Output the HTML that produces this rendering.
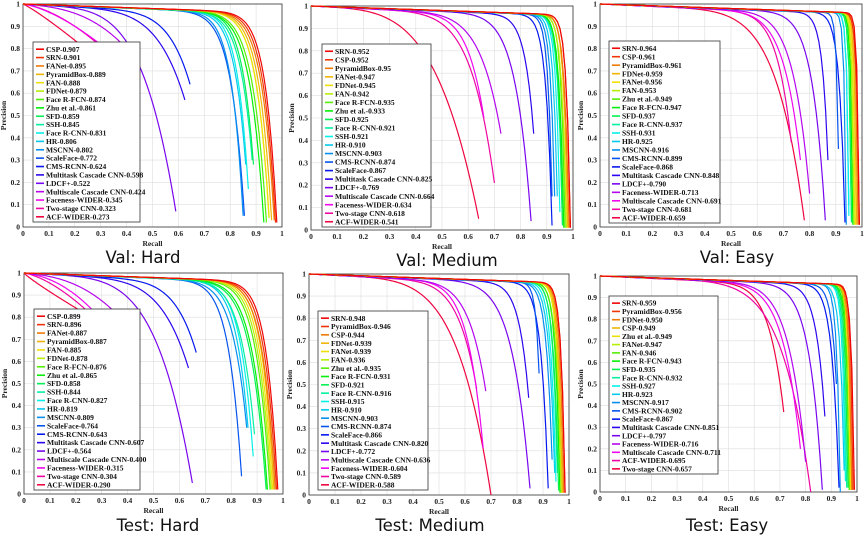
<!DOCTYPE html>
<html><head><meta charset="utf-8"><style>
html,body{margin:0;padding:0;background:#fff;width:864px;height:537px;overflow:hidden}
svg{display:block}
.tk{font-family:"Liberation Serif",serif;font-weight:bold;font-size:7.5px;fill:#222}
.lg{font-family:"Liberation Serif",serif;font-weight:bold;font-size:7.5px;fill:#111}
.ttl{font-family:"DejaVu Sans","Liberation Sans",sans-serif;font-size:16.5px;fill:#111}
</style></head><body>
<svg id="fig" width="864" height="537" viewBox="0 0 864 537" xmlns="http://www.w3.org/2000/svg"></svg>
<script>
// ---- Val: Hard ----
const valHardLabels=["CSP-0.907","SRN-0.901","FANet-0.895","PyramidBox-0.889","FAN-0.888","FDNet-0.879","Face R-FCN-0.874","Zhu et al.-0.861","SFD-0.859","SSH-0.845","Face R-CNN-0.831","HR-0.806","MSCNN-0.802","ScaleFace-0.772","CMS-RCNN-0.624","Multitask Cascade CNN-0.598","LDCF+-0.522","Multiscale Cascade CNN-0.424","Faceness-WIDER-0.345","Two-stage CNN-0.323","ACF-WIDER-0.273"];
const valHardEndRecall=[0.98,0.975,0.97,0.96,0.95,0.95,0.94,0.93,0.89,0.885,0.87,0.86,0.85,0.855,0.645,0.625,0.59,0.40,0.32,0.31,0.24];
const valHardEndPrec=[0.02,0.02,0.03,0.03,0.05,0.04,0.02,0.02,0.28,0.30,0.17,0.28,0.05,0.05,0.64,0.57,0.07,0.80,0.80,0.80,0.80];
const valHardR90=[0.87,0.86,0.85,0.84,0.83,0.83,0.81,0.80,0.79,0.78,0.77,0.76,0.74,0.73,0.53,0.47,0.35,0.30,0.20,0.20,0.13];
// ---- Val: Medium ----
const valMedLabels=["SRN-0.952","CSP-0.952","PyramidBox-0.95","FANet-0.947","FDNet-0.945","FAN-0.942","Face R-FCN-0.935","Zhu et al.-0.933","SFD-0.925","Face R-CNN-0.921","SSH-0.921","HR-0.910","MSCNN-0.903","CMS-RCNN-0.874","ScaleFace-0.867","Multitask Cascade CNN-0.825","LDCF+-0.769","Multiscale Cascade CNN-0.664","Faceness-WIDER-0.634","Two-stage CNN-0.618","ACF-WIDER-0.541"];
const valMedEndRecall=[0.99,0.99,0.985,0.98,0.98,0.975,0.97,0.965,0.96,0.96,0.95,0.94,0.93,0.92,0.92,0.85,0.84,0.725,0.66,0.70,0.64];
const valMedEndPrec=[0.01,0.01,0.01,0.01,0.01,0.01,0.01,0.01,0.02,0.02,0.08,0.15,0.15,0.15,0.02,0.43,0.04,0.43,0.50,0.21,0.05];
const valMedR90=[0.95,0.95,0.94,0.94,0.94,0.93,0.93,0.92,0.92,0.915,0.91,0.90,0.89,0.88,0.86,0.78,0.70,0.58,0.55,0.52,0.35];
// ---- Val: Easy ----
const valEasyLabels=["SRN-0.964","CSP-0.961","PyramidBox-0.961","FDNet-0.959","FANet-0.956","FAN-0.953","Zhu et al.-0.949","Face R-FCN-0.947","SFD-0.937","Face R-CNN-0.937","SSH-0.931","HR-0.925","MSCNN-0.916","CMS-RCNN-0.899","ScaleFace-0.868","Multitask Cascade CNN-0.848","LDCF+-0.790","Faceness-WIDER-0.713","Multiscale Cascade CNN-0.691","Two-stage CNN-0.681","ACF-WIDER-0.659"];
const valEasyEndRecall=[0.99,0.99,0.985,0.98,0.975,0.97,0.97,0.965,0.96,0.96,0.95,0.95,0.94,0.91,0.935,0.87,0.86,0.80,0.765,0.73,0.78];
const valEasyEndPrec=[0.01,0.01,0.01,0.01,0.01,0.01,0.01,0.01,0.02,0.02,0.05,0.10,0.01,0.35,0.02,0.30,0.03,0.15,0.30,0.38,0.03];
const valEasyR90=[0.97,0.965,0.965,0.96,0.96,0.955,0.95,0.95,0.945,0.94,0.935,0.93,0.92,0.90,0.88,0.82,0.74,0.66,0.63,0.62,0.55];
// ---- Test: Hard ----
const testHardLabels=["CSP-0.899","SRN-0.896","FANet-0.887","PyramidBox-0.887","FAN-0.885","FDNet-0.878","Face R-FCN-0.876","Zhu et al.-0.865","SFD-0.858","SSH-0.844","Face R-CNN-0.827","HR-0.819","MSCNN-0.809","ScaleFace-0.764","CMS-RCNN-0.643","Multitask Cascade CNN-0.607","LDCF+-0.564","Multiscale Cascade CNN-0.400","Faceness-WIDER-0.315","Two-stage CNN-0.304","ACF-WIDER-0.290"];
const testHardEndRecall=[0.98,0.975,0.97,0.965,0.96,0.955,0.95,0.94,0.935,0.89,0.885,0.865,0.86,0.84,0.665,0.635,0.65,0.37,0.29,0.27,0.26];
const testHardEndPrec=[0.02,0.02,0.02,0.02,0.02,0.02,0.02,0.02,0.02,0.27,0.17,0.30,0.30,0.08,0.64,0.57,0.05,0.80,0.80,0.80,0.80];
const testHardR90=[0.87,0.86,0.85,0.85,0.84,0.83,0.82,0.80,0.79,0.77,0.77,0.76,0.74,0.72,0.55,0.48,0.39,0.27,0.20,0.17,0.12];
// ---- Test: Medium ----
const testMedLabels=["SRN-0.948","PyramidBox-0.946","CSP-0.944","FDNet-0.939","FANet-0.939","FAN-0.936","Zhu et al.-0.935","Face R-FCN-0.931","SFD-0.921","Face R-CNN-0.916","SSH-0.915","HR-0.910","MSCNN-0.903","CMS-RCNN-0.874","ScaleFace-0.866","Multitask Cascade CNN-0.820","LDCF+-0.772","Multiscale Cascade CNN-0.636","Faceness-WIDER-0.604","Two-stage CNN-0.589","ACF-WIDER-0.588"];
const testMedEndRecall=[0.985,0.985,0.98,0.975,0.975,0.97,0.97,0.965,0.96,0.955,0.95,0.945,0.935,0.885,0.92,0.845,0.85,0.68,0.67,0.645,0.70];
const testMedEndPrec=[0.01,0.01,0.01,0.01,0.01,0.01,0.01,0.01,0.02,0.10,0.06,0.10,0.16,0.55,0.03,0.44,0.03,0.47,0.21,0.48,0.00];
const testMedR90=[0.945,0.945,0.94,0.935,0.93,0.93,0.92,0.92,0.91,0.91,0.90,0.89,0.88,0.86,0.85,0.77,0.69,0.56,0.54,0.52,0.44];
// ---- Test: Easy ----
const testEasyLabels=["SRN-0.959","PyramidBox-0.956","FDNet-0.950","CSP-0.949","Zhu et al.-0.949","FANet-0.947","FAN-0.946","Face R-FCN-0.943","SFD-0.935","Face R-CNN-0.932","SSH-0.927","HR-0.923","MSCNN-0.917","CMS-RCNN-0.902","ScaleFace-0.867","Multitask Cascade CNN-0.851","LDCF+-0.797","Faceness-WIDER-0.716","Multiscale Cascade CNN-0.711","ACF-WIDER-0.695","Two-stage CNN-0.657"];
const testEasyEndRecall=[0.99,0.985,0.98,0.98,0.975,0.975,0.97,0.97,0.965,0.96,0.955,0.95,0.935,0.92,0.93,0.875,0.865,0.80,0.78,0.82,0.715];
const testEasyEndPrec=[0.01,0.01,0.01,0.01,0.01,0.01,0.01,0.01,0.02,0.02,0.05,0.10,0.00,0.50,0.02,0.35,0.01,0.14,0.20,0.00,0.37];
const testEasyR90=[0.96,0.96,0.955,0.95,0.95,0.95,0.945,0.94,0.935,0.93,0.925,0.91,0.90,0.88,0.86,0.80,0.74,0.65,0.63,0.58,0.60];

const HUES=[0,12,30,45,56,75,100,120,140,160,178,190,205,220,235,250,270,285,300,320,345];
const panels=[
 {id:"val-hard",title:"Val: Hard",x0:23,x1:282,yt:4,yb:227,lx:33,ly:42,lw:107,lh:180,tx:143,ty:263,L:valHardLabels,R:valHardEndRecall,P:valHardEndPrec,K:valHardR90},
 {id:"val-medium",title:"Val: Medium",x0:311,x1:573,yt:6,yb:230,lx:322,ly:44,lw:109,lh:183,tx:447,ty:266,L:valMedLabels,R:valMedEndRecall,P:valMedEndPrec,K:valMedR90},
 {id:"val-easy",title:"Val: Easy",x0:600,x1:862,yt:4,yb:227,lx:609,ly:41,lw:111,lh:182,tx:737,ty:263,L:valEasyLabels,R:valEasyEndRecall,P:valEasyEndPrec,K:valEasyR90},
 {id:"test-hard",title:"Test: Hard",x0:24,x1:283,yt:273,yb:494,lx:34,ly:309,lw:106,lh:181,tx:158,ty:531,L:testHardLabels,R:testHardEndRecall,P:testHardEndPrec,K:testHardR90},
 {id:"test-medium",title:"Test: Medium",x0:309,x1:569,yt:274,yb:495,lx:318,ly:311,lw:110,lh:179,tx:430,ty:531,L:testMedLabels,R:testMedEndRecall,P:testMedEndPrec,K:testMedR90},
 {id:"test-easy",title:"Test: Easy",x0:600,x1:857,yt:276,yb:492,lx:609,ly:296,lw:109,lh:178,tx:727,ty:531,L:testEasyLabels,R:testEasyEndRecall,P:testEasyEndPrec,K:testEasyR90}
];
const NS="http://www.w3.org/2000/svg";
const svg=document.getElementById("fig");
function mk(tag,attrs,parent,text){const e=document.createElementNS(NS,tag);for(const k in attrs)e.setAttribute(k,attrs[k]);if(text!==undefined)e.textContent=text;parent.appendChild(e);return e;}
panels.forEach(pn=>{
 const g=mk("g",{},svg);
 
 
 const sx=r=>pn.x0+r*(pn.x1-pn.x0);
 const sy=p=>pn.yb-p*(pn.yb-pn.yt);
 for(let i=0;i<=10;i++){
  const v=i/10;
  const gl=mk("line",{x1:sx(v),x2:sx(v),y1:pn.yt,y2:pn.yb,stroke:"#dedede","stroke-width":0.6},g);
  
  
  const gh=mk("line",{x1:pn.x0,x2:pn.x1,y1:sy(v),y2:sy(v),stroke:"#dedede","stroke-width":0.6},g);
  
  
  const lab=i===0?"0":(i===10?"1":v.toFixed(1));
  const xt=mk("text",{x:sx(v),y:pn.yb+9,"text-anchor":"middle",class:"tk"},g,lab);
  
  
  const yt=mk("text",{x:pn.x0-3,y:sy(v)+2.5,"text-anchor":"end",class:"tk"},g,lab);
  
  
 }
 const fr=mk("rect",{x:pn.x0,y:pn.yt,width:pn.x1-pn.x0,height:pn.yb-pn.yt,fill:"none",stroke:"#333","stroke-width":0.8},g);
 
 
 const xl=mk("text",{x:(pn.x0+pn.x1)/2,y:pn.yb+19,"text-anchor":"middle",class:"tk","font-size":"8"},g,"Recall");
 
 
 const ycx=pn.x0-17, ycy=(pn.yt+pn.yb)/2;
 const yl=mk("text",{x:ycx,y:ycy,"text-anchor":"middle",class:"tk","font-size":"8",transform:`rotate(-90 ${ycx} ${ycy})`},g,"Precision");
 
 
 for(let i=pn.L.length-1;i>=0;i--){
  const rE=pn.R[i], pE=pn.P[i], r90=Math.min(pn.K[i],rE*0.98);
  const a=Math.min(0.04,(1-pE)*0.2);
  const u=r90/rE;
  const rest=Math.max(0.1-a*u,0.02);
  const k=Math.log(rest/Math.max(1-pE-a,0.11))/Math.log(u);
  let d="";
  for(let j=0;j<=100;j++){
   const t=j/100;
   const p=1-a*t-(1-pE-a)*Math.pow(t,k);
   d+=(j?"L":"M")+sx(rE*t).toFixed(2)+","+sy(p).toFixed(2);
  }
  const path=mk("path",{d:d,fill:"none",stroke:`hsl(${HUES[i]},95%,48%)`,"stroke-width":1.2},g);
  
  
 }
 const lgG=mk("g",{},g);
 
 
 mk("rect",{x:pn.lx,y:pn.ly,width:pn.lw,height:pn.lh,fill:"#fff",stroke:"#333","stroke-width":0.8},lgG);
 const rh=(pn.lh-4)/pn.L.length;
 pn.L.forEach((lab,i)=>{
  const yy=pn.ly+3+rh*(i+0.5);
  const ln=mk("line",{x1:pn.lx+3,x2:pn.lx+11,y1:yy,y2:yy,stroke:`hsl(${HUES[i]},95%,48%)`,"stroke-width":1.6},lgG);
  
  
  const t=mk("text",{x:pn.lx+13,y:yy+2.6,class:"lg"},lgG,lab);
  
  
 });
 const tt=mk("text",{x:pn.tx,y:pn.ty,"text-anchor":"middle",class:"ttl"},g,pn.title);
 
 
});
</script>
</body></html>
